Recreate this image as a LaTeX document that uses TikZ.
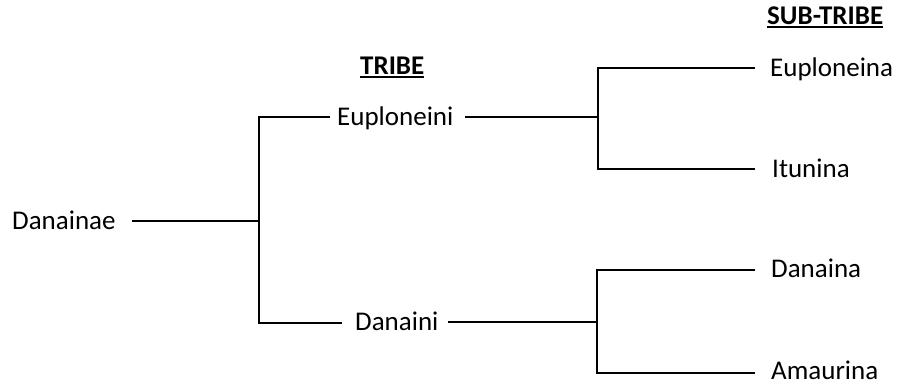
\documentclass[tikz,border=0pt]{standalone}
\usepackage{fontspec}
\setmainfont{Carlito}
\begin{document}
\begin{tikzpicture}[x=1pt,y=-1pt,
  lbl/.style={inner sep=0pt, anchor=base west, font=\fontsize{27}{32}\selectfont},
  hdr/.style={inner sep=0pt, anchor=base west, font=\fontsize{27}{32}\selectfont\bfseries},
  ln/.style={line width=1.8pt}]
\useasboundingbox (0,0) rectangle (899,383);
% labels
\node[lbl] (danainae) at (12,229) {Danainae};
\node[lbl] (euploneini) at (337,125) {Euploneini};
\node[lbl] (danaini) at (355,330) {Danaini};
\node[lbl] (euploneina) at (770,76) {Euploneina};
\node[lbl] (itunina) at (772,177) {Itunina};
\node[lbl] (danaina) at (771,277) {Danaina};
\node[lbl] (amaurina) at (771,379) {Amaurina};
\node[hdr] (tribe) at (360,74) {TRIBE};
\node[hdr] (subtribe) at (767,24) {SUB-TRIBE};
\draw[line width=1.8pt] ([yshift=-3pt]tribe.base west) -- ([yshift=-3pt]tribe.base east);
\draw[line width=1.8pt] ([yshift=-3pt]subtribe.base west) -- ([yshift=-3pt]subtribe.base east);
% junctions
\coordinate (j0) at (259,221);
\coordinate (j0t) at (259,117);
\coordinate (j0b) at (259,323);
\coordinate (e0) at (132,221);
\coordinate (t1) at (330,117);
\coordinate (t2) at (342,323);
\coordinate (u0) at (465,117);
\coordinate (d0) at (448,322);
\coordinate (ju) at (598,117);
\coordinate (jut) at (598,68);
\coordinate (jub) at (598,169);
\coordinate (jd) at (597,322);
\coordinate (jdt) at (597,270);
\coordinate (jdb) at (597,373);
\coordinate (r1) at (755,68);
\coordinate (r2) at (755,169);
\coordinate (r3) at (755,270);
\coordinate (r4) at (755,373);
% tree
\draw[ln] (e0) -- (j0);
\draw[ln] (t1) -- (j0t) -- (j0b) -- (t2);
\draw[ln] (u0) -- (ju);
\draw[ln] (r1) -- (jut) -- (jub) -- (r2);
\draw[ln] (d0) -- (jd);
\draw[ln] (r3) -- (jdt) -- (jdb) -- (r4);
\end{tikzpicture}
\end{document}
